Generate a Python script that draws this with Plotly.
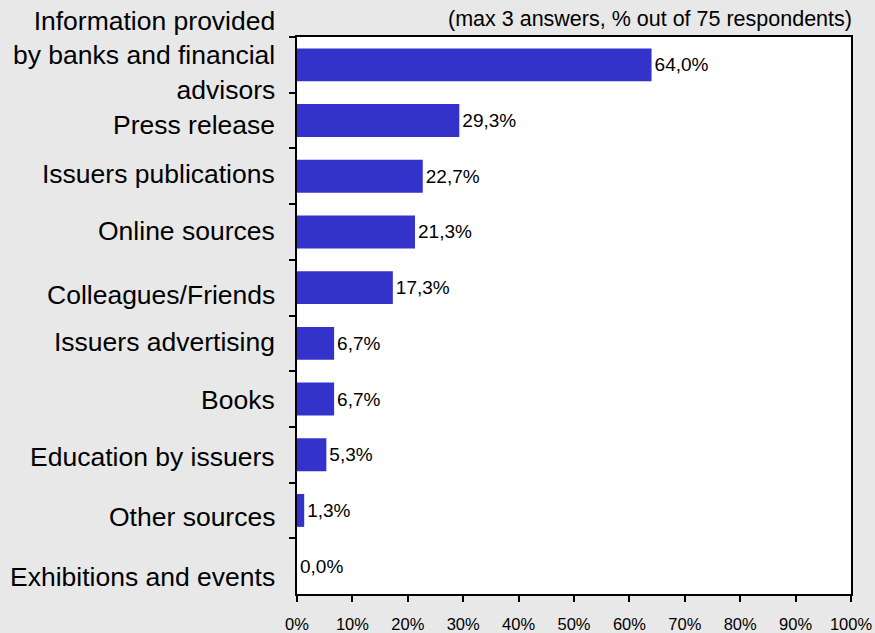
import plotly.graph_objects as go

categories = [
    "Information provided<br>by banks and financial<br>advisors",
    "Press release",
    "Issuers publications",
    "Online sources",
    "Colleagues/Friends",
    "Issuers advertising",
    "Books",
    "Education by issuers",
    "Other sources",
    "Exhibitions and events",
]
values = [64.0, 29.3, 22.7, 21.3, 17.3, 6.7, 6.7, 5.3, 1.3, 0.0]
value_labels = [f"{v:.1f}".replace(".", ",") + "%" for v in values]
x_ticks = list(range(0, 101, 10))
x_tick_labels = [f"{t}%" for t in x_ticks]
note = "(max 3 answers, % out of 75 respondents)"

# vertical nudges of category labels (pixels, positive = down), style only
label_nudge = [-9, 4, -2, -1, 7, -1, 1, 2, 7, 11]

FONT = "Liberation Sans, Arial, Helvetica, sans-serif"

fig = go.Figure(
    go.Bar(
        x=values,
        y=categories,
        orientation="h",
        marker=dict(color="#3333cc", line=dict(width=0)),
        width=0.59,
        text=value_labels,
        textposition="outside",
        textfont=dict(family=FONT, size=19, color="#000000"),
        constraintext="none",
        cliponaxis=False,
        hoverinfo="skip",
    )
)

annotations = [
    dict(
        text=cat,
        xref="paper",
        yref="y",
        x=0,
        y=cat,
        xanchor="right",
        yanchor="middle",
        align="right",
        xshift=-20,
        yshift=-nudge,
        showarrow=False,
        font=dict(size=26.5, family=FONT, color="#000000"),
    )
    for cat, nudge in zip(categories, label_nudge)
]
annotations.append(
    dict(
        text=note,
        xref="paper",
        yref="paper",
        x=1,
        y=1,
        xanchor="right",
        yanchor="middle",
        xshift=3,
        yshift=18,
        showarrow=False,
        font=dict(size=21.5, family=FONT, color="#000000"),
    )
)

n = len(categories)

fig.update_layout(
    width=875,
    height=633,
    autosize=False,
    paper_bgcolor="#e8e8e8",
    plot_bgcolor="#ffffff",
    margin=dict(l=297, r=24, t=37, b=39, autoexpand=False),
    showlegend=False,
    font=dict(family=FONT, color="#000000"),
    xaxis=dict(
        range=[0, 100],
        autorange=False,
        tickvals=x_ticks,
        ticktext=x_tick_labels,
        tickfont=dict(size=16.5, family=FONT),
        ticklabelstandoff=8,
        ticks="outside",
        ticklen=6,
        tickwidth=1.5,
        tickcolor="#000000",
        showline=True,
        linecolor="#000000",
        linewidth=2,
        mirror=True,
        showgrid=False,
        zeroline=False,
        fixedrange=True,
        automargin=False,
    ),
    yaxis=dict(
        type="category",
        categoryorder="array",
        categoryarray=categories,
        autorange=False,
        range=[n - 0.5, -0.5],
        tickson="boundaries",
        ticks="outside",
        ticklen=6,
        tickwidth=1.5,
        tickcolor="#000000",
        showticklabels=False,
        showline=True,
        linecolor="#000000",
        linewidth=2,
        mirror=True,
        showgrid=False,
        zeroline=False,
        fixedrange=True,
        automargin=False,
    ),
    annotations=annotations,
)

fig.write_html(
    "out.html",
    config={"displayModeBar": False, "responsive": False},
    post_script="document.body.style.margin='0';document.body.style.background='#e8e8e8';",
)
